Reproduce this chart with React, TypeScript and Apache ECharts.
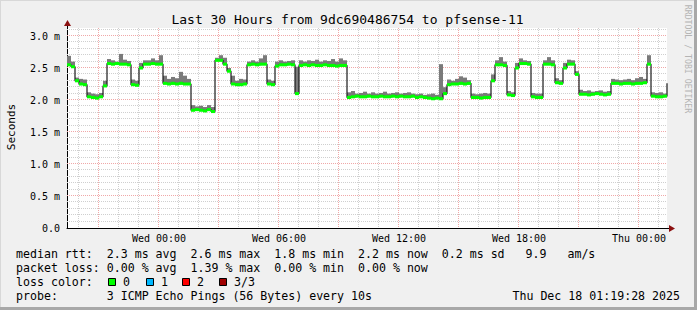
import React, { useEffect, useRef } from 'react';
import * as echarts from 'echarts';

// time axis: hours relative to Wed 00:00; first sample Tue 19:24, one sample every 12 minutes
const START_HOUR = -4.6;
const STEP_HOURS = 0.2;

// median round-trip time, ms
const medianRtt = [
  2.55, 2.52, 2.30, 2.25, 2.24, 2.05, 2.04, 2.03, 2.05, 2.22,
  2.57, 2.56, 2.57, 2.56, 2.56, 2.55, 2.24, 2.23, 2.50, 2.56,
  2.56, 2.57, 2.56, 2.56, 2.26, 2.25, 2.26, 2.25, 2.26, 2.25,
  2.25, 1.84, 1.85, 1.84, 1.83, 1.85, 1.82, 2.62, 2.62, 2.56,
  2.45, 2.25, 2.24, 2.24, 2.25, 2.55, 2.56, 2.55, 2.56, 2.56,
  2.25, 2.24, 2.53, 2.55, 2.55, 2.56, 2.55, 2.10, 2.54, 2.55,
  2.54, 2.55, 2.54, 2.54, 2.55, 2.54, 2.54, 2.53, 2.54, 2.54,
  2.04, 2.05, 2.06, 2.05, 2.05, 2.06, 2.05, 2.05, 2.06, 2.05,
  2.05, 2.06, 2.05, 2.06, 2.05, 2.05, 2.06, 2.04, 2.05, 2.04,
  2.03, 2.02, 2.03, 2.02, 2.10, 2.24, 2.25, 2.25, 2.26, 2.25,
  2.26, 2.04, 2.04, 2.03, 2.04, 2.04, 2.30, 2.55, 2.55, 2.54,
  2.08, 2.07, 2.50, 2.57, 2.57, 2.56, 2.05, 2.04, 2.04, 2.56,
  2.56, 2.55, 2.27, 2.26, 2.50, 2.56, 2.56, 2.40, 2.09, 2.09,
  2.08, 2.09, 2.10, 2.09, 2.08, 2.09, 2.26, 2.26, 2.25, 2.26,
  2.26, 2.25, 2.26, 2.26, 2.27, 2.56, 2.06, 2.05, 2.05, 2.06,
  2.26,
];

// highest ping in each sample (top of the smoke), ms
const smokeMax = [
  2.69, 2.60, 2.35, 2.33, 2.32, 2.12, 2.10, 2.09, 2.11, 2.30,
  2.64, 2.62, 2.60, 2.72, 2.63, 2.61, 2.32, 2.30, 2.58, 2.62,
  2.62, 2.65, 2.62, 2.70, 2.38, 2.33, 2.36, 2.34, 2.44, 2.38,
  2.33, 1.92, 1.90, 1.91, 1.89, 1.92, 1.89, 2.66, 2.70, 2.66,
  2.50, 2.38, 2.30, 2.33, 2.32, 2.60, 2.62, 2.60, 2.65, 2.70,
  2.32, 2.30, 2.60, 2.62, 2.60, 2.61, 2.62, 2.52, 2.62, 2.60,
  2.62, 2.61, 2.63, 2.60, 2.62, 2.61, 2.64, 2.60, 2.65, 2.62,
  2.12, 2.14, 2.10, 2.11, 2.13, 2.10, 2.12, 2.10, 2.11, 2.13,
  2.10, 2.11, 2.12, 2.10, 2.11, 2.12, 2.10, 2.09, 2.10, 2.08,
  2.09, 2.10, 2.08, 2.56, 2.20, 2.32, 2.30, 2.33, 2.37, 2.35,
  2.31, 2.10, 2.09, 2.10, 2.11, 2.10, 2.40, 2.62, 2.67, 2.60,
  2.14, 2.12, 2.58, 2.65, 2.62, 2.61, 2.11, 2.10, 2.10, 2.62,
  2.67, 2.62, 2.34, 2.31, 2.58, 2.63, 2.62, 2.45, 2.16, 2.14,
  2.15, 2.13, 2.14, 2.15, 2.13, 2.14, 2.33, 2.32, 2.31, 2.32,
  2.33, 2.31, 2.34, 2.36, 2.33, 2.70, 2.12, 2.11, 2.12, 2.10,
  2.30,
];

const xTickHours = [0, 6, 12, 18, 24];
const xTickLabels = ['Wed 00:00', 'Wed 06:00', 'Wed 12:00', 'Wed 18:00', 'Thu 00:00'];
const xGridHours = [-4, -3, -2, -1, 0, 1, 2, 3, 4, 5, 6, 7, 8, 9, 10, 11, 12, 13, 14, 15, 16, 17, 18, 19, 20, 21, 22, 23, 24, 25];
const yGridValues = [
  0.1, 0.2, 0.3, 0.4, 0.5, 0.6, 0.7, 0.8, 0.9, 1.0,
  1.1, 1.2, 1.3, 1.4, 1.5, 1.6, 1.7, 1.8, 1.9, 2.0,
  2.1, 2.2, 2.3, 2.4, 2.5, 2.6, 2.7, 2.8, 2.9, 3.0, 3.1,
];
const X_MIN = -4.6;
const X_MAX = 25.4;
const Y_MAX = 3.125;

const titleText = 'Last 30 Hours from 9dc690486754 to pfsense-11';
const yAxisTitle = 'Seconds';
const creditText = 'RRDTOOL / TOBI OETIKER';
const legendRows = [
  'median rtt:  2.3 ms avg  2.6 ms max  1.8 ms min  2.2 ms now  0.2 ms sd   9.9   am/s',
  'packet loss: 0.00 % avg  1.39 % max  0.00 % min  0.00 % now',
  'loss color:',
  'probe:       3 ICMP Echo Pings (56 Bytes) every 10s',
];
const lossLabels = ['0', '1', '2', '3/3'];
const lossColors = ['#00ff00', '#00b8ff', '#ff0000', '#a00000'];
const stampText = 'Thu Dec 18 01:19:28 2025';

const MONO = '"DejaVu Sans Mono", monospace';
const MAJOR = '#f0a8a8';
const MINOR = '#cfcfcf';

export default function App() {
  const ref = useRef<HTMLDivElement>(null);

  useEffect(() => {
    document.body.style.margin = '0';
    if (!ref.current) return;
    const chart = echarts.init(ref.current, undefined, { renderer: 'svg' });

    const hours = medianRtt.map((_, i) => +(START_HOUR + i * STEP_HOURS).toFixed(2));
    const medianPts = medianRtt.map((v, i) => [hours[i], v]);
    const nextHour = (i: number) => (i + 1 < hours.length ? hours[i + 1] : hours[i]);
    const smokeRects = smokeMax.map((v, i) => [hours[i], nextHour(i), medianRtt[i] - 0.01, v]);
    const greenRects = medianRtt.map((v, i) => [hours[i], nextHour(i), v - 0.024, v + 0.024]);

    const vGrid = xGridHours.map((h) => [h, Math.abs(h % 3) === 0 ? 1 : 0]);
    const hGrid = yGridValues.map((v) => [v, Math.round(v * 10) % 5 === 0 ? 1 : 0]);

    const crisp = (p: number) => Math.round(p) + 0.5;

    const rectRender = (color: string) => (params: any, api: any) => {
      const a = api.coord([api.value(0), api.value(3)]);
      const b = api.coord([api.value(1), api.value(2)]);
      return {
        type: 'rect',
        shape: { x: a[0], y: a[1], width: b[0] - a[0], height: b[1] - a[1] },
        style: { fill: color },
      };
    };

    const legendGraphics: any[] = legendRows.map((t, i) => ({
      type: 'text',
      x: 16,
      y: 254 + i * 14,
      style: { text: t, font: `11.6px ${MONO}`, fill: '#000', align: 'left', verticalAlign: 'middle' },
    }));
    const boxX = [108, 146, 182, 219];
    lossLabels.forEach((lab, i) => {
      legendGraphics.push({
        type: 'rect',
        shape: { x: boxX[i] + 0.5, y: 278.5, width: 7, height: 7 },
        style: { fill: lossColors[i], stroke: '#000', lineWidth: 1 },
      });
      legendGraphics.push({
        type: 'text',
        x: boxX[i] + 15,
        y: 282,
        style: { text: lab, font: `11.6px ${MONO}`, fill: '#000', align: 'left', verticalAlign: 'middle' },
      });
    });

    chart.setOption({
      animation: false,
      backgroundColor: '#f0f0f0',
      grid: {
        left: 67,
        right: 30,
        top: 28,
        bottom: 82,
        show: true,
        backgroundColor: '#ffffff',
        borderWidth: 0,
      },
      xAxis: {
        type: 'value',
        min: X_MIN,
        max: X_MAX,
        axisLine: { show: true, onZero: false, lineStyle: { color: '#000', width: 1 } },
        axisTick: { show: false },
        splitLine: { show: false },
        axisLabel: {
          customValues: xTickHours,
          formatter: (v: number) => {
            const k = xTickHours.indexOf(Math.round(v));
            return k >= 0 ? xTickLabels[k] : '';
          },
          fontFamily: MONO,
          fontSize: 10,
          color: '#000',
          margin: 5,
        },
      },
      yAxis: {
        type: 'value',
        min: 0,
        max: Y_MAX,
        interval: 0.1,
        axisLine: { show: true, onZero: false, lineStyle: { color: '#000', width: 1 } },
        axisTick: { show: false },
        splitLine: { show: false },
        axisLabel: {
          showMaxLabel: false,
          formatter: (v: number) => {
            const t = Math.round(v * 10);
            if (t % 5 !== 0) return '';
            return t === 0 ? '0.0' : (t / 10).toFixed(1) + ' m';
          },
          fontFamily: MONO,
          fontSize: 10,
          color: '#000',
          margin: 7,
        },
      },
      series: [
        {
          name: 'vgrid',
          type: 'custom',
          data: vGrid,
          encode: { x: 0 },
          silent: true,
          z: 1,
          renderItem: (params: any, api: any) => {
            const h = api.value(0);
            const major = api.value(1) === 1;
            const top = api.coord([h, Y_MAX]);
            const bot = api.coord([h, 0]);
            const x = crisp(top[0]) - 1;
            return {
              type: 'line',
              shape: { x1: x, y1: top[1], x2: x, y2: bot[1] },
              style: { stroke: major ? MAJOR : MINOR, lineWidth: 1, lineDash: [1, 1] },
            };
          },
        },
        {
          name: 'hgrid',
          type: 'custom',
          data: hGrid,
          encode: { y: 0 },
          silent: true,
          z: 1,
          renderItem: (params: any, api: any) => {
            const v = api.value(0);
            const major = api.value(1) === 1;
            const l = api.coord([X_MIN, v]);
            const r = api.coord([X_MAX, v]);
            const y = crisp(l[1]) - 1;
            return {
              type: 'line',
              shape: { x1: l[0], y1: y, x2: r[0], y2: y },
              style: { stroke: major ? MAJOR : MINOR, lineWidth: 1, lineDash: [1, 1] },
            };
          },
        },
        {
          name: 'smoke',
          type: 'custom',
          data: smokeRects,
          encode: { x: [0, 1], y: [2, 3] },
          silent: true,
          z: 2,
          renderItem: rectRender('#7a7a7a'),
        },
        {
          name: 'median',
          type: 'line',
          data: medianPts,
          step: 'end',
          symbol: 'none',
          lineStyle: { color: '#1a1a1a', width: 1.2 },
          silent: true,
          z: 3,
        },
        {
          name: 'loss0',
          type: 'custom',
          data: greenRects,
          encode: { x: [0, 1], y: [2, 3] },
          silent: true,
          z: 4,
          renderItem: rectRender(lossColors[0]),
        },
      ],
      graphic: [
        // frame shading
        { type: 'rect', shape: { x: 0, y: 0, width: 697, height: 1 }, style: { fill: '#d8d8d8' }, silent: true },
        { type: 'rect', shape: { x: 0, y: 0, width: 1, height: 310 }, style: { fill: '#d8d8d8' }, silent: true },
        { type: 'rect', shape: { x: 694, y: 0, width: 3, height: 310 }, style: { fill: '#a8a8a8' }, silent: true },
        { type: 'rect', shape: { x: 0, y: 307, width: 697, height: 3 }, style: { fill: '#a8a8a8' }, silent: true },
        // axis extensions and arrows
        { type: 'line', shape: { x1: 667, y1: 228.5, x2: 670, y2: 228.5 }, style: { stroke: '#000', lineWidth: 1 }, silent: true },
        { type: 'polygon', shape: { points: [[669, 225], [675, 228.5], [669, 232]] }, style: { fill: '#8b1010' }, silent: true },
        { type: 'line', shape: { x1: 67.5, y1: 28, x2: 67.5, y2: 25 }, style: { stroke: '#000', lineWidth: 1 }, silent: true },
        { type: 'polygon', shape: { points: [[64, 26], [67.5, 20], [71, 26]] }, style: { fill: '#8b1010' }, silent: true },
        {
          type: 'text', x: 347.5, y: 19,
          style: { text: titleText, font: `13px ${MONO}`, fill: '#000', align: 'center', verticalAlign: 'middle' },
        },
        {
          type: 'text', x: 11, y: 127, rotation: Math.PI / 2,
          style: { text: yAxisTitle, font: `11px ${MONO}`, fill: '#000', align: 'center', verticalAlign: 'middle' },
        },
        {
          type: 'text', x: 688, y: 59, rotation: -Math.PI / 2,
          style: { text: creditText, font: `8.2px ${MONO}`, fill: '#b4b4b4', align: 'center', verticalAlign: 'middle' },
        },
        ...legendGraphics,
        {
          type: 'text', x: 680, y: 296,
          style: { text: stampText, font: `11.6px ${MONO}`, fill: '#000', align: 'right', verticalAlign: 'middle' },
        },
      ],
    });

    return () => chart.dispose();
  }, []);

  return <div ref={ref} style={{ width: 697, height: 310 }} />;
}
